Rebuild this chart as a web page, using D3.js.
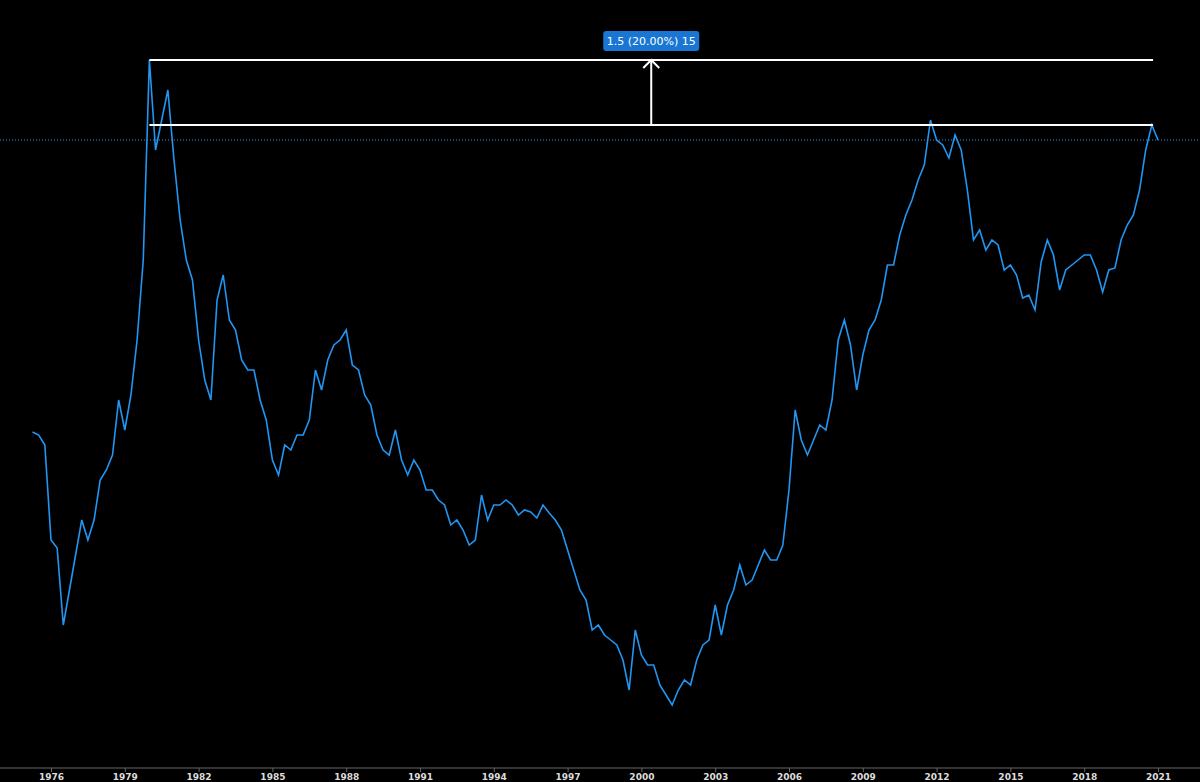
<!DOCTYPE html>
<html>
<head>
<meta charset="utf-8">
<script src="https://cdn.jsdelivr.net/npm/d3@7"></script>
<style>
  body { margin: 0; background: #000; }
  svg { display: block; }
</style>
</head>
<body>
<div id="content"></div>
<script>
// quarterly series, starting 1975 Q2
const START_YEAR = 1975.25;
const STEP = 0.25;
const values = [
  31.8, 31.5, 30.5, 21.0, 20.2, 12.5, 16.0, 19.5, 23.0, 21.0, 23.0, 27.0,
  28.0, 29.5, 35.0, 32.0, 35.5, 41.0, 49.0, 69.0, 60.0, 63.0, 66.0, 59.0,
  53.0, 49.0, 47.0, 41.0, 37.0, 35.0, 45.0, 47.5, 43.0, 42.0, 39.0, 38.0,
  38.0, 35.0, 33.0, 29.0, 27.5, 30.5, 30.0, 31.5, 31.5, 33.0, 38.0, 36.0,
  39.0, 40.5, 41.0, 42.0, 38.5, 38.0, 35.5, 34.5, 31.5, 30.0, 29.5, 32.0,
  29.0, 27.5, 29.0, 28.0, 26.0, 26.0, 25.0, 24.5, 22.5, 23.0, 22.0, 20.5,
  21.0, 25.5, 23.0, 24.5, 24.5, 25.0, 24.5, 23.5, 24.0, 23.8, 23.2, 24.5,
  23.7, 23.0, 22.0, 20.0, 18.0, 16.0, 15.0, 12.0, 12.5, 11.5, 11.0, 10.5,
  9.0, 6.0, 12.0, 9.5, 8.5, 8.5, 6.5, 5.5, 4.5, 6.0, 7.0, 6.5,
  9.0, 10.5, 11.0, 14.5, 11.5, 14.5, 16.0, 18.5, 16.5, 17.0, 18.5, 20.0,
  19.0, 19.0, 20.5, 26.0, 34.0, 31.0, 29.5, 31.0, 32.5, 32.0, 35.0, 41.0,
  43.0, 40.5, 36.0, 39.5, 42.0, 43.0, 45.0, 48.5, 48.5, 51.5, 53.5, 55.0,
  57.0, 58.5, 63.0, 61.0, 60.5, 59.2, 61.5, 60.0, 56.0, 51.0, 52.0, 50.0,
  51.0, 50.5, 48.0, 48.5, 47.5, 45.2, 45.5, 44.0, 48.8, 51.0, 49.5, 46.0,
  48.0, 48.5, 49.0, 49.5, 49.5, 48.0, 45.8, 48.0, 48.2, 51.0, 52.5, 53.5,
  56.0, 60.0, 62.5, 61.0
];
const tickYears = [1976, 1979, 1982, 1985, 1988, 1991, 1994, 1997, 2000, 2003, 2006, 2009, 2012, 2015, 2018, 2021];
const measureFrom = 1980.0;
const measureTo = 2020.8;
const arrowAt = 2000.4;
const levelLow = 62.5;
const levelHigh = 69.0;
const lastLevel = 61.0;
const labelText = "1.5 (20.00%) 15";

const width = 1200, height = 782;
const data = values.map((v, i) => ({ t: START_YEAR + i * STEP, v: v }));

const x = d3.scaleLinear().domain([1976, 2021]).range([51, 1158]);
const y = d3.scaleLinear().domain([0, 69]).range([750, 60]);

const svg = d3.select("#content").append("svg")
  .attr("width", width).attr("height", height)
  .style("background", "#000");

// last value line
svg.append("line")
  .attr("x1", 0).attr("x2", width)
  .attr("y1", y(lastLevel)).attr("y2", y(lastLevel))
  .attr("stroke", "#2196f3").attr("stroke-width", 1)
  .attr("stroke-dasharray", "1,2");

// price line
svg.append("path")
  .datum(data)
  .attr("fill", "none")
  .attr("stroke", "#2196f3")
  .attr("stroke-width", 1.6)
  .attr("d", d3.line().x(d => x(d.t)).y(d => y(d.v)));

// measure annotation
[levelLow, levelHigh].forEach(l => {
  svg.append("line")
    .attr("x1", x(measureFrom)).attr("x2", x(measureTo))
    .attr("y1", y(l)).attr("y2", y(l))
    .attr("stroke", "#fff").attr("stroke-width", 2);
});
const ax = x(arrowAt);
svg.append("line")
  .attr("x1", ax).attr("x2", ax)
  .attr("y1", y(levelLow)).attr("y2", y(levelHigh))
  .attr("stroke", "#fff").attr("stroke-width", 2);
svg.append("path")
  .attr("d", `M${ax - 8},${y(levelHigh) + 8}L${ax},${y(levelHigh)}L${ax + 8},${y(levelHigh) + 8}`)
  .attr("fill", "none").attr("stroke", "#fff").attr("stroke-width", 2);

const lbl = svg.append("g");
lbl.append("rect")
  .attr("x", ax - 48).attr("y", 31).attr("width", 96).attr("height", 20)
  .attr("rx", 3).attr("fill", "#1976d2");
lbl.append("text")
  .attr("x", ax).attr("y", 45)
  .attr("text-anchor", "middle")
  .attr("fill", "#fff")
  .style("font", "11px 'DejaVu Sans', sans-serif")
  .text(labelText);

// x axis
const axis = svg.append("g")
  .attr("transform", "translate(0,768)")
  .call(d3.axisBottom(x).tickValues(tickYears).tickFormat(d3.format("d")).tickSize(4).tickPadding(2));
axis.select(".domain").attr("d", `M0,0H${width}`).attr("stroke", "#666");
axis.selectAll(".tick line").attr("stroke", "#666");
axis.selectAll(".tick text")
  .attr("fill", "#ddd")
  .style("font", "bold 9px 'DejaVu Sans', sans-serif");
</script>
</body>
</html>
